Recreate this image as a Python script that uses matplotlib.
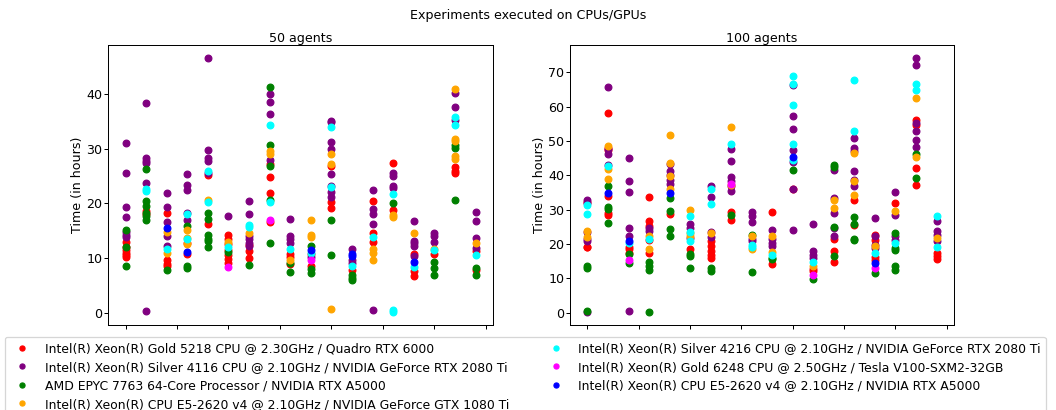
import matplotlib
matplotlib.use('Agg')
import matplotlib.pyplot as plt
from matplotlib.lines import Line2D

labels = [
    'Intel(R) Xeon(R) Gold 5218 CPU @ 2.30GHz / Quadro RTX 6000',
    'Intel(R) Xeon(R) Silver 4116 CPU @ 2.10GHz / NVIDIA GeForce RTX 2080 Ti',
    'AMD EPYC 7763 64-Core Processor / NVIDIA RTX A5000',
    'Intel(R) Xeon(R) CPU E5-2620 v4 @ 2.10GHz / NVIDIA GeForce GTX 1080 Ti',
    'Intel(R) Xeon(R) Silver 4216 CPU @ 2.10GHz / NVIDIA GeForce RTX 2080 Ti',
    'Intel(R) Xeon(R) Gold 6248 CPU @ 2.50GHz / Tesla V100-SXM2-32GB',
    'Intel(R) Xeon(R) CPU E5-2620 v4 @ 2.10GHz / NVIDIA RTX A5000',
]
colors = ['red', 'purple', 'green', 'orange', 'cyan', 'magenta', 'blue']

# hours per experiment (one list per experiment, 18 experiments), 50 agents
red_50 = [[13.0, 12.0, 11.5, 11.0, 10.6, 10.2], [18.6, 18.0], [18.3, 9.7, 9.0, 8.5], [12.8, 10.8],
          [25.1, 16.3], [14.3, 13.4, 12.5, 11.5, 10.5, 9.8, 9.1], [12.3, 11.3, 10.0],
          [27.2, 24.8, 21.9, 16.6], [10.7, 10.2, 9.0], [10.7, 8.5], [26.8, 20.3, 19.1], [7.9],
          [20.5, 14.6, 13.0], [27.4, 18.7], [10.8, 7.6, 6.7], [10.8], [26.6, 25.9, 25.6], [11.3, 7.9]]
purple_50 = [[31.0, 25.5, 19.3, 17.5, 14.8, 14.3, 13.8], [38.3, 28.3, 27.8, 27.4, 23.7, 0.3],
             [21.8, 19.3, 16.6, 14.0, 12.2], [25.4, 23.4, 22.4, 18.3, 16.9],
             [46.6, 29.8, 28.3, 27.7, 25.6], [17.6], [20.4, 18.1, 14.0, 13.4, 12.8, 12.2],
             [39.9, 38.5, 36.4, 27.9], [17.2, 14.0, 13.4, 12.8], [10.2],
             [35.1, 34.8, 31.2, 29.9, 25.3, 23.1, 22.0, 21.2], [11.7, 9.7, 9.1],
             [22.5, 19.0, 18.0, 16.3, 0.5], [25.6, 25.0, 23.2, 22.8], [16.8, 13.1, 12.7, 12.2, 10.3],
             [14.5, 14.0, 13.0], [40.2, 37.6, 35.3], [18.4, 16.7, 13.7, 11.9]]
green_50 = [[15.1, 12.0, 8.5], [26.3, 20.4, 19.5, 18.3, 17.6, 17.0], [7.8], [15.8, 8.5, 8.1],
            [18.3, 17.2, 14.3, 13.5, 13.1, 12.1], [11.2], [8.8], [41.2, 30.6, 26.9, 20.6, 12.7],
            [9.1, 7.4], [12.2, 8.0, 7.3], [16.9, 10.5], [7.0, 6.4, 6.0], [], [20.1], [],
            [9.3, 8.2, 7.0], [30.7, 30.1, 20.7], [8.2, 6.9]]
orange_50 = [[], [], [14.7, 11.0], [15.1, 13.6, 12.5], [20.6], [13.0], [14.6], [29.6, 29.1],
             [9.7], [16.9, 14.2, 13.9], [29.1, 27.1, 0.7], [], [11.6, 11.0, 9.6], [17.8, 17.5],
             [14.6], [11.7], [40.9, 31.8, 31.3, 28.6, 28.1], [12.8]]
cyan_50 = [[], [22.7, 22.2], [11.6], [18.0, 13.4], [25.9, 20.3], [12.0], [16.1, 15.7],
           [34.4, 20.3], [11.6], [11.0], [34.0, 23.0], [8.5], [13.8], [21.7, 0.5, 0.1],
           [8.4], [11.4], [35.8, 34.4], [10.5]]
magenta_50 = [[], [], [], [], [], [8.3], [], [17.0], [], [9.7], [], [], [], [], [], [], [], []]
blue_50 = [[], [], [15.5], [11.2], [], [], [], [], [], [11.4], [], [10.7, 10.3], [], [],
           [9.3], [], [], []]

# hours per experiment, 100 agents
red_100 = [[32.2, 19.2, 19.0], [58.3, 47.9, 47.3, 34.0, 29.0, 28.5], [19.2, 18.5, 17.5],
           [33.8, 26.6, 25.2, 21.3, 17.4], [28.8], [18.6], [20.8, 19.3, 17.9, 16.9, 15.9],
           [29.3, 27.1], [], [29.3, 14.3], [36.1], [12.7, 12.2], [21.5, 18.1, 14.7],
           [32.9, 25.5], [22.7, 21.3, 16.2, 15.3], [32.0], [56.1, 54.8, 42.1, 37.3],
           [17.4, 16.4, 15.5]]
purple_100 = [[32.8, 31.9, 23.4, 21.5, 20.8, 0.2], [65.9, 47.7, 46.3, 43.0],
              [45.2, 38.5, 35.2, 24.6, 22.2, 0.5], [24.7, 23.7],
              [43.4, 41.4, 40.2, 38.8, 37.6], [25.7, 24.7, 21.8], [36.8, 33.7, 23.4, 22.0],
              [47.7, 44.3, 39.6, 38.3, 36.8, 35.4], [29.3, 28.3, 26.3, 21.5, 20.8],
              [24.2, 21.5, 20.3, 19.5], [66.3, 57.2, 53.4, 47.5, 43.8, 35.9, 24.2],
              [25.9, 17.9, 16.9, 15.9], [41.7, 33.4, 29.1, 24.7, 22.3],
              [50.9, 48.0, 47.0, 41.4, 38.8, 36.8], [27.6, 22.3, 19.8, 18.7],
              [35.3, 28.6, 22.3, 21.3], [74.3, 72.1, 55.3, 52.9, 50.4, 48.3],
              [26.6, 23.7, 22.7, 20.8]]
green_100 = [[13.5, 13.0, 0.5], [36.9, 30.9, 30.1, 26.2], [17.1, 14.4],
             [14.7, 13.7, 12.5, 0.1], [33.4, 29.5, 24.4, 22.4], [17.1, 16.6, 12.9], [12.9, 12.2],
             [28.6], [22.7, 11.8], [15.9, 15.5], [41.5], [9.8], [42.9, 42.4, 24.9, 16.4],
             [27.9, 25.9, 21.6, 21.1], [11.6], [23.2, 18.9, 18.4, 13.5, 12.3], [46.1, 39.2], []]
orange_100 = [[23.8, 22.0], [48.6, 41.8, 39.0], [], [22.3, 18.6], [51.9, 43.6, 39.7, 35.9],
              [29.8, 23.2, 22.3], [23.2], [54.0, 37.3], [22.3, 18.6], [22.3, 17.8], [], [13.5],
              [32.8, 30.5], [46.6, 38.5, 34.4], [19.3], [29.5], [62.6, 45.4], [21.8]]
cyan_100 = [[31.5, 28.8], [42.7], [20.2], [21.5], [], [28.1, 23.4, 20.8], [35.9, 31.8],
            [49.2], [19.8, 19.0], [16.7], [69.1, 66.6, 60.4, 49.2, 44.6], [14.7], [],
            [67.7, 52.9], [17.4], [20.3], [66.7, 64.8], [28.1, 19.1]]
magenta_100 = [[], [], [15.4], [], [], [], [], [37.5], [], [], [], [11.1], [], [], [13.0],
               [], [], []]
blue_100 = [[], [35.0], [20.9], [], [34.9], [], [], [], [], [], [45.4], [], [], [], [14.5],
            [], [], []]

panels = [
    ('50 agents', [red_50, purple_50, green_50, orange_50, cyan_50, magenta_50, blue_50]),
    ('100 agents', [red_100, purple_100, green_100, orange_100, cyan_100, magenta_100, blue_100]),
]

fig = plt.figure(figsize=(1056 / 91, 410 / 91), dpi=91)
ax1 = fig.add_axes([0.1023, 0.2073, 0.3646, 0.6829])
ax2 = fig.add_axes([0.5398, 0.2073, 0.3636, 0.6829])

for ax, (title, series) in zip([ax1, ax2], panels):
    for runs, color in zip(series, colors):
        xs = []
        ys = []
        for i, vals in enumerate(runs):
            xs += [i] * len(vals)
            ys += vals
        ax.scatter(xs, ys, color=color, s=28)
    ax.set_title(title, fontsize=10, pad=2)
    ax.set_ylabel('Time (in hours)', labelpad=2)
    ax.tick_params(labelbottom=False)
    ax.tick_params(axis='y', pad=1)

fig.suptitle('Experiments executed on CPUs/GPUs', fontsize=10, y=0.978)

handles = [Line2D([], [], linestyle='none', marker='o', markersize=4, color=c) for c in colors]
fig.legend(handles, labels, loc='upper left', ncol=2, bbox_to_anchor=(5 / 1056, 0.178),
           borderaxespad=0, columnspacing=2.8, labelspacing=0.45, fontsize=9.8)

fig.savefig('out.png', dpi=91)
